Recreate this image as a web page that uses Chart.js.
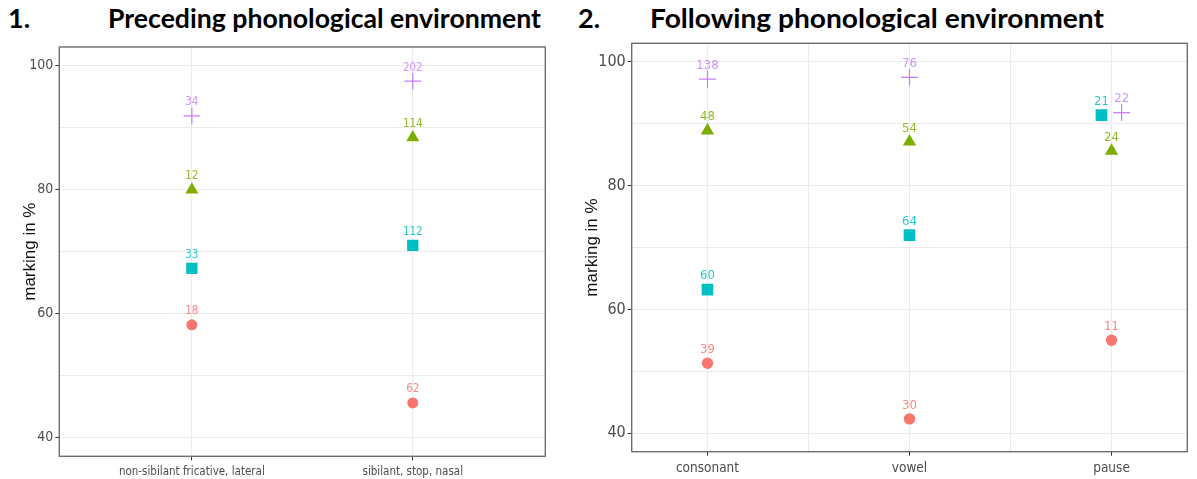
<!DOCTYPE html>
<html>
<head>
<meta charset="utf-8">
<script src="https://cdn.jsdelivr.net/npm/chart.js"></script>
<style>
  body { margin: 0; background: #fff; width: 1197px; height: 479px; overflow: hidden; position: relative; }
  .ttl { position: absolute; top: 4px; font-family: Lato, "Open Sans", sans-serif; font-weight: 700; font-size: 27px; line-height: 1; color: #000; white-space: nowrap; transform-origin: 0 0; }
  canvas { position: absolute; top: 0; }
</style>
</head>
<body>
<div class="ttl" style="left:8px">1.</div>
<div class="ttl" style="left:108px" data-w="433">Preceding phonological environment</div>
<div class="ttl" style="left:578px">2.</div>
<div class="ttl" style="left:650px" data-w="454">Following phonological environment</div>
<canvas id="left" width="560" height="479" style="left:0"></canvas>
<canvas id="right" width="617" height="479" style="left:580px"></canvas>

<script>
// categories
const leftCats = ['non-sibilant fricative, lateral', 'sibilant, stop, nasal']
const rightCats = ['consonant', 'vowel', 'pause']
const yTicks = [40, 50, 60, 70, 80, 90, 100]
const yLabels = [40, 60, 80, 100]

// series colours (ggplot default hues)
const colCircle = '#F8766D'
const colTriangle = '#7CAE00'
const colSquare = '#00BFC4'
const colCross = '#C77CFF'

// 1. preceding environment: marking in % and token counts
const leftCircle = [58.2, 45.6]
const leftCircleN = [18, 62]
const leftTriangle = [80.0, 88.4]
const leftTriangleN = [12, 114]
const leftSquare = [67.3, 71.0]
const leftSquareN = [33, 112]
const leftCross = [91.9, 97.5]
const leftCrossN = [34, 202]

// 2. following environment
const rightCircle = [51.3, 42.3, 55.0]
const rightCircleN = [39, 30, 11]
const rightTriangle = [88.9, 87.1, 85.6]
const rightTriangleN = [48, 54, 24]
const rightSquare = [63.2, 72.0, 91.4]
const rightSquareN = [60, 64, 21]
const rightCross = [97.2, 97.5, 91.8]
const rightCrossN = [138, 76, 22]
// square and cross are dodged apart at "pause"
const rightSquareX = [1, 2, 2.95]
const rightCrossX = [1, 2, 3.05]

const narrow = '"Liberation Sans Narrow", "Arial Narrow", "DejaVu Sans Condensed", "Liberation Sans", sans-serif'

// fit the titles to the width they have in the picture
document.querySelectorAll('.ttl[data-w]').forEach(el => {
  let w = el.getBoundingClientRect().width
  el.style.transform = 'scaleX(' + (el.dataset.w / w) + ')'
})

const mkSet = (xs, ys, ns, color, style, radius, label) => ({
  label: label,
  data: ys.map((y, i) => ({ x: xs[i], y: y })),
  counts: ns,
  pointStyle: style,
  pointRadius: radius,
  pointBorderWidth: style == 'cross' ? 1.2 : 0,
  backgroundColor: color,
  borderColor: color,
  showLine: false
})

// counts above the points + the panel box
const panelExtras = {
  id: 'panelExtras',
  afterDatasetsDraw(chart) {
    const ctx = chart.ctx
    const size = chart.options.countSize
    ctx.save()
    ctx.font = size + 'px ' + narrow
    ctx.textAlign = 'center'
    ctx.textBaseline = 'middle'
    chart.data.datasets.forEach((ds, i) => {
      chart.getDatasetMeta(i).data.forEach((pt, j) => {
        ctx.globalAlpha = 0.85
        ctx.fillStyle = ds.borderColor
        ctx.fillText(String(ds.counts[j]), pt.x, pt.y - 13.5)
      })
    })
    ctx.restore()
  },
  afterDraw(chart) {
    const a = chart.chartArea
    const ctx = chart.ctx
    ctx.save()
    ctx.strokeStyle = '#6e6e6e'
    ctx.lineWidth = 1.4
    ctx.strokeRect(a.left, a.top, a.right - a.left, a.bottom - a.top)
    ctx.restore()
  }
}

function makePanel(id, cats, xMin, xMax, xGrid, datasets, dims) {
  return new Chart(document.getElementById(id), {
    type: 'scatter',
    data: { datasets: datasets },
    plugins: [panelExtras],
    options: {
      responsive: false,
      animation: false,
      countSize: dims.countSize,
      layout: { padding: { top: dims.top, right: dims.right, left: 0, bottom: 0 } },
      plugins: { legend: { display: false }, tooltip: { enabled: false } },
      scales: {
        x: {
          type: 'linear',
          min: xMin,
          max: xMax,
          afterBuildTicks: s => { s.ticks = xGrid.map(v => ({ value: v })) },
          afterFit: s => { s.height = dims.xh },
          border: { display: false },
          grid: {
            color: '#ebebeb',
            lineWidth: 1,
            tickLength: 4,
            tickColor: c => Number.isInteger(c.tick.value) ? '#333' : 'rgba(0,0,0,0)'
          },
          ticks: {
            autoSkip: false,
            maxRotation: 0,
            padding: dims.xPad,
            color: '#4d4d4d',
            font: { family: narrow, size: dims.xFont },
            callback: v => Number.isInteger(v) ? cats[v - 1] : ''
          }
        },
        y: {
          min: 37,
          max: 103,
          afterBuildTicks: s => { s.ticks = yTicks.map(v => ({ value: v })) },
          afterFit: s => { s.width = dims.yw },
          border: { display: false },
          grid: {
            color: '#ebebeb',
            lineWidth: 1,
            tickLength: 4,
            tickColor: c => yLabels.includes(c.tick.value) ? '#333' : 'rgba(0,0,0,0)'
          },
          ticks: {
            padding: 2,
            color: '#4d4d4d',
            font: { family: narrow, size: dims.yFont },
            callback: v => yLabels.includes(v) ? String(v) : ''
          },
          title: {
            display: true,
            text: 'marking in %',
            color: '#111',
            font: { family: '"Liberation Sans", Arial, sans-serif', size: 17 },
            padding: { top: dims.titlePad, bottom: 0 }
          }
        }
      }
    }
  })
}

makePanel('left', leftCats, 0.4, 2.6, [1, 2], [
  mkSet([1, 2], leftCircle, leftCircleN, colCircle, 'circle', 5.5, 'circle'),
  mkSet([1, 2], leftTriangle, leftTriangleN, colTriangle, 'triangle', 7.5, 'triangle'),
  mkSet([1, 2], leftSquare, leftSquareN, colSquare, 'rect', 8, 'square'),
  mkSet([1, 2], leftCross, leftCrossN, colCross, 'cross', 8.3, 'cross')
], { top: 47, right: 14.7, xh: 22.7, yw: 59.3, titlePad: 19.8, xFont: 11.5, yFont: 14, xPad: 5, countSize: 11.5 })

makePanel('right', rightCats, 0.625, 3.375, [1, 1.5, 2, 2.5, 3], [
  mkSet([1, 2, 3], rightCircle, rightCircleN, colCircle, 'circle', 5.7, 'circle'),
  mkSet([1, 2, 3], rightTriangle, rightTriangleN, colTriangle, 'triangle', 7.7, 'triangle'),
  mkSet(rightSquareX, rightSquare, rightSquareN, colSquare, 'rect', 8.2, 'square'),
  mkSet(rightCrossX, rightCross, rightCrossN, colCross, 'cross', 8.5, 'cross')
], { top: 43.3, right: 1.3, xh: 27.3, yw: 51.7, titlePad: 1.8, xFont: 13.5, yFont: 16, xPad: 4.5, countSize: 13 })
</script>
</body>
</html>
